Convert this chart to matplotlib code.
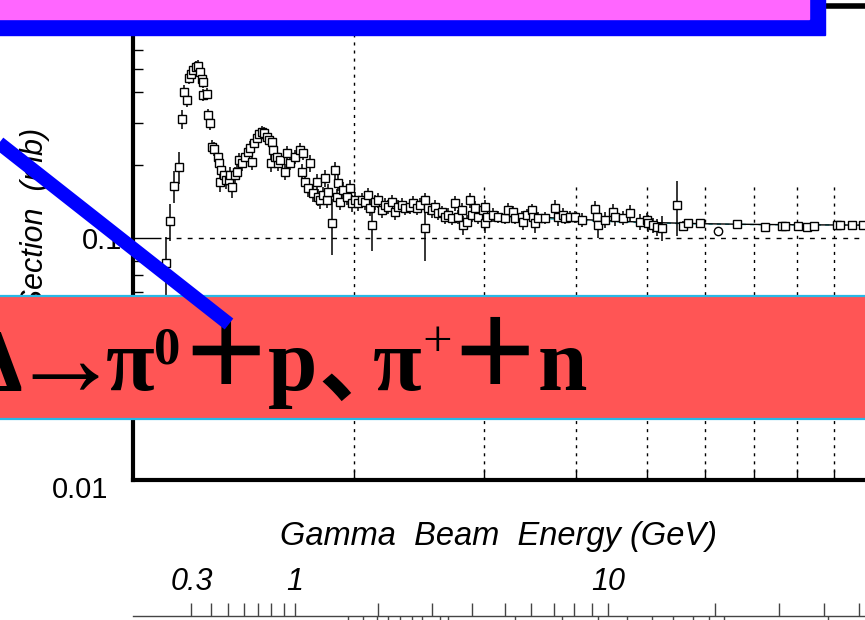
"""
Gamma-p total cross section slide: log-log data plot with slide overlays.
"""
import numpy as np
import matplotlib.pyplot as plt
import matplotlib.transforms as mtransforms
from matplotlib.patches import Rectangle
from matplotlib.lines import Line2D
from matplotlib.ticker import FixedLocator, LogLocator, NullFormatter

plt.rcParams['font.family'] = ['Liberation Sans', 'DejaVu Sans']

# total cross section (mb) against W = sqrt(s) (GeV)
w_data = [
    1.109, 1.123, 1.137, 1.155, 1.166, 1.173, 1.184, 1.192, 1.199, 1.207,
    1.218, 1.226, 1.234, 1.241, 1.245, 1.245, 1.261, 1.265, 1.273, 1.281,
    1.289, 1.305, 1.309, 1.318, 1.313, 1.330, 1.339, 1.351, 1.364, 1.355,
    1.377, 1.385, 1.394, 1.407, 1.420, 1.434, 1.443, 1.452, 1.461, 1.475,
    1.484, 1.498, 1.508, 1.522, 1.531, 1.541, 1.546, 1.560, 1.575,
    1.551, 1.570, 1.585, 1.610, 1.620, 1.635, 1.661, 1.687, 1.698, 1.703,
    1.714, 1.730, 1.741, 1.757, 1.780, 1.785, 1.797, 1.814, 1.825, 1.836,
    1.842, 1.865, 1.883, 1.895, 1.901, 1.913, 1.931, 1.955, 1.973, 1.986,
    2.004, 2.023, 2.049, 2.068, 2.088, 2.101, 2.114, 2.134, 2.154, 2.181,
    2.202, 2.223, 2.251, 2.273, 2.294, 2.323, 2.345, 2.382, 2.404, 2.435,
    2.458, 2.497, 2.497, 2.520, 2.552, 2.576, 2.600, 2.633, 2.658, 2.683,
    2.716, 2.742, 2.768, 2.802, 2.812, 2.847, 2.874, 2.892, 2.919, 2.947,
    2.994, 3.013, 3.032,
    3.013, 3.090, 3.139, 3.208, 3.238, 3.289, 3.309, 3.382, 3.392, 3.435,
    3.490, 3.500, 3.522, 3.556, 3.634, 3.750, 3.786, 3.846, 3.870, 3.931,
    3.993, 4.082, 4.252, 4.279, 4.292, 4.387, 4.498, 4.526, 4.641, 4.744,
    4.895, 5.004, 5.020, 5.099, 5.163, 5.245, 5.497,
    5.602, 5.690, 5.907, 6.634, 7.243, 7.638, 7.711, 8.031, 8.260, 8.442,
    9.074, 9.160, 9.510, 9.845,
]
sigma_data = [
    0.0788, 0.1176, 0.1640, 0.1965, 0.3102, 0.4012, 0.3718, 0.4584, 0.4761, 0.4946,
    0.5089, 0.5137, 0.4853, 0.4540, 0.4412, 0.3898, 0.3936, 0.3222, 0.2987, 0.2377,
    0.2332, 0.2161, 0.2042, 0.1910, 0.1703, 0.1821, 0.1736, 0.1736, 0.1624, 0.1821,
    0.1821, 0.1874, 0.2101, 0.2042, 0.2161, 0.2267, 0.2355, 0.2061, 0.2470, 0.2590,
    0.2690, 0.2742, 0.2716, 0.2615, 0.2541, 0.2042, 0.2493, 0.2161, 0.2042,
    0.2310, 0.2161, 0.2101, 0.1874, 0.2245, 0.2042, 0.2161, 0.2310, 0.1874, 0.2245,
    0.1703, 0.1609, 0.2042, 0.1535, 0.1703, 0.1477, 0.1436, 0.1505, 0.1770, 0.1436,
    0.1549, 0.1153, 0.1910, 0.1477, 0.1687, 0.1409, 0.1579, 0.1477, 0.1609, 0.1395,
    0.1436, 0.1395, 0.1436, 0.1409, 0.1505, 0.1330, 0.1132, 0.1409, 0.1436, 0.1305,
    0.1369, 0.1343, 0.1409, 0.1281, 0.1343, 0.1369, 0.1330, 0.1343, 0.1395, 0.1330,
    0.1369, 0.1436, 0.1100, 0.1330, 0.1305, 0.1343, 0.1269, 0.1281, 0.1221, 0.1245,
    0.1210, 0.1395, 0.1221, 0.1305, 0.1132, 0.1164, 0.1436, 0.1245, 0.1330, 0.1221,
    0.1305, 0.1153, 0.1221,
    0.1343, 0.1245, 0.1221, 0.1210, 0.1305, 0.1281, 0.1210, 0.1221, 0.1164, 0.1245,
    0.1305, 0.1221, 0.1153, 0.1210, 0.1210, 0.1330, 0.1221, 0.1245, 0.1210, 0.1221,
    0.1221, 0.1187, 0.1318, 0.1221, 0.1132, 0.1187, 0.1281, 0.1221, 0.1210, 0.1269,
    0.1164, 0.1187, 0.1153, 0.1132, 0.1110, 0.1100, 0.1369,
    0.1121, 0.1153, 0.1153, 0.1142, 0.1110, 0.1121, 0.1121, 0.1121, 0.1110, 0.1121,
    0.1132, 0.1132, 0.1132, 0.1132,
]
sigma_err = [
    0.022, 0.020, 0.025, 0.030, 0.028, 0.026, 0.024, 0.024, 0.026, 0.026,
    0.030, 0.030, 0.026, 0.026, 0.025, 0.022, 0.022, 0.020, 0.020, 0.016,
    0.016, 0.015, 0.015, 0.016, 0.016, 0.014, 0.014, 0.016, 0.016, 0.014,
    0.014, 0.014, 0.015, 0.015, 0.015, 0.016, 0.016, 0.015, 0.016, 0.016,
    0.017, 0.017, 0.017, 0.016, 0.016, 0.016, 0.015, 0.015, 0.015,
    0.015, 0.015, 0.015, 0.014, 0.015, 0.014, 0.014, 0.015, 0.014, 0.015,
    0.013, 0.013, 0.016, 0.012, 0.013, 0.012, 0.012, 0.012, 0.014, 0.011,
    0.012, 0.030, 0.016, 0.012, 0.013, 0.011, 0.012, 0.011, 0.012, 0.011,
    0.011, 0.010, 0.010, 0.010, 0.011, 0.010, 0.025, 0.010, 0.010, 0.009,
    0.009, 0.009, 0.010, 0.009, 0.009, 0.009, 0.009, 0.009, 0.009, 0.009,
    0.009, 0.010, 0.030, 0.009, 0.009, 0.009, 0.008, 0.008, 0.008, 0.008,
    0.008, 0.010, 0.008, 0.009, 0.010, 0.008, 0.010, 0.008, 0.009, 0.008,
    0.008, 0.010, 0.008,
    0.009, 0.008, 0.007, 0.007, 0.009, 0.007, 0.007, 0.007, 0.008, 0.007,
    0.008, 0.008, 0.010, 0.007, 0.007, 0.010, 0.010, 0.008, 0.007, 0.007,
    0.007, 0.008, 0.011, 0.012, 0.013, 0.009, 0.010, 0.010, 0.008, 0.010,
    0.009, 0.008, 0.009, 0.008, 0.009, 0.013, 0.035,
    0.005, 0.004, 0.004, 0.003, 0.003, 0.002, 0.002, 0.002, 0.002, 0.002,
    0.002, 0.002, 0.002, 0.002,
]

w_circle = [6.250]
sigma_circle = [0.1069]
err_circle = [0.004]

# smooth high-energy fits
w_fit = [3.0, 3.5, 4.0, 5.0, 6.0, 7.0, 8.0, 10.0]
sigma_fit = [0.1265, 0.1225, 0.1195, 0.1160, 0.1145, 0.1138, 0.1134, 0.1130]
sigma_fit2 = [0.1240, 0.1210, 0.1185, 0.1155, 0.1142, 0.1136, 0.1133, 0.1130]

# beam energy scale drawn under the plot (GeV)
beam_ticks = [0.3, 0.4, 0.5, 0.6, 0.7, 0.8, 0.9, 1, 2, 3, 4, 5, 6, 7, 8, 9, 10,
              20, 30, 40, 50]
beam_labelled = [0.3, 1, 10]
beam_labels = ['0.3', '1', '10']
# ticks of the cropped scale below it, as W (GeV)
lower_ticks_w = [1.961, 2.055, 2.148, 2.223, 2.308, 2.397, 2.473, 2.617, 2.683,
                 3.309, 3.835, 4.292, 4.700, 5.083, 5.429, 5.779, 6.075, 6.368,
                 8.822]
M_P = 0.938

W_PX, H_PX = 865, 620


def fx(x):
    return x / W_PX


def fy(y):
    return 1 - y / H_PX


def beam_to_w(e):
    return np.sqrt(M_P ** 2 + 2 * M_P * np.asarray(e, dtype=float))


fig = plt.figure(figsize=(8.65, 6.2), dpi=100)

# main plot
ax = fig.add_axes([fx(133), fy(480), 735 / W_PX, 474 / H_PX])
ax.set_xscale('log')
ax.set_yscale('log')
ax.set_xlim(1, 10)
ax.set_ylim(0.01, 0.909)

ax.yaxis.set_major_locator(FixedLocator([0.01, 0.1]))
ax.yaxis.set_minor_locator(LogLocator(subs=np.arange(2, 10)))
ax.yaxis.set_minor_formatter(NullFormatter())
ax.set_yticklabels(['0.01', '0.1'])
ax.xaxis.set_major_formatter(NullFormatter())
ax.xaxis.set_minor_formatter(NullFormatter())
ax.tick_params(axis='y', which='major', direction='in', length=20, width=1,
               labelsize=21, pad=8)
ax.tick_params(axis='y', which='minor', direction='in', length=7, width=1)
ax.tick_params(axis='x', which='both', direction='in', length=7, width=1)
lab = ax.get_yticklabels()[0]
lab.set_transform(lab.get_transform() + mtransforms.ScaledTranslation(
    -0.14, -0.07, fig.dpi_scale_trans))

for side in ['left', 'bottom', 'right']:
    ax.spines[side].set_linewidth(3)
ax.spines['top'].set_linewidth(4)

# dotted grid
ax.axvline(2, color='black', lw=1, ls=(0, (2.2, 3.6)), zorder=1)
for w in [3, 4, 5, 6, 7, 8, 9]:
    ax.axvline(w, ymax=0.622, color='black', lw=1, ls=(0, (2.2, 3.6)), zorder=1)
ax.axhline(0.1, xmin=0.043, color='black', lw=1, ls=(0, (3.5, 4.5)), zorder=1)

ax.plot(w_fit, sigma_fit2, color='#1fb5c0', lw=1, ls=(0, (3, 3)), zorder=2)
ax.plot(w_fit, sigma_fit, color='black', lw=1, zorder=2)

ax.errorbar(w_data, sigma_data, yerr=sigma_err, fmt='s', ms=6, mfc='white',
            mec='black', mew=1.0, ecolor='black', elinewidth=1.1, capsize=0,
            zorder=3)
ax.errorbar(w_circle, sigma_circle, yerr=err_circle, fmt='o', ms=6, mfc='white',
            mec='black', mew=1.0, ecolor='black', elinewidth=1.1, capsize=0,
            zorder=3)

# beam energy scale
ax2 = fig.add_axes([fx(133), fy(616), 735 / W_PX, 0.0001])
ax2.set_xscale('log')
ax2.set_xlim(1, 10)
ax2.set_yticks([])
for side in ['left', 'right', 'bottom']:
    ax2.spines[side].set_visible(False)
ax2.spines['top'].set_color('#444444')
ax2.spines['top'].set_linewidth(1)
ax2.xaxis.set_major_locator(FixedLocator(beam_to_w(beam_labelled)))
ax2.xaxis.set_minor_locator(FixedLocator(beam_to_w(beam_ticks)))
ax2.set_xticklabels(beam_labels)
ax2.xaxis.set_minor_formatter(NullFormatter())
ax2.tick_params(axis='x', which='both', top=True, bottom=False, labeltop=True,
                labelbottom=False, direction='out', length=9.5, width=1,
                color='#444444')
ax2.tick_params(axis='x', which='major', labelsize=22, pad=4)
for t in ax2.get_xticklabels():
    t.set_fontstyle('italic')

ax3 = fig.add_axes([fx(133), fy(616), 735 / W_PX, 0.0001])
ax3.set_xscale('log')
ax3.set_xlim(1, 10)
ax3.set_yticks([])
ax3.patch.set_visible(False)
for side in ['left', 'right', 'top', 'bottom']:
    ax3.spines[side].set_visible(False)
ax3.xaxis.set_major_locator(FixedLocator(lower_ticks_w))
ax3.xaxis.set_minor_locator(FixedLocator([]))
ax3.xaxis.set_major_formatter(NullFormatter())
ax3.tick_params(axis='x', which='major', direction='out', length=8, width=1,
                color='#444444')

# axis titles
fig.text(fx(499), fy(537), 'Gamma  Beam  Energy (GeV)', fontsize=23.5,
         style='italic', ha='center', va='center')
fig.text(fx(35), fy(128), 'Cross  Section  (mb)', fontsize=22, style='italic',
         rotation=90, ha='center', va='top')

# slide decorations
fig.add_artist(Rectangle((fx(-20), fy(35)), fx(845), 0.2, color='#0000ff',
                         transform=fig.transFigure, zorder=10))
fig.add_artist(Rectangle((fx(-20), fy(19)), fx(829), 0.2, color='#ff66ff',
                         transform=fig.transFigure, zorder=11))
fig.add_artist(Rectangle((fx(-20), fy(419)), fx(905), 123 / H_PX,
                         facecolor='#ff5555', edgecolor='#29b8e6', lw=1.6,
                         transform=fig.transFigure, zorder=10))

serif = ['Liberation Serif', 'DejaVu Serif']
cjk = ['Noto Sans CJK SC', 'DejaVu Sans']
base = fy(390)
kw = dict(transform=fig.transFigure, zorder=12, color='black')
fig.text(fx(22), base, 'Δ', family=serif, weight='bold', fontsize=64,
         ha='right', va='baseline', **kw)
fig.text(fx(65), fy(368), '→', family=serif, weight='bold', fontsize=80,
         ha='center', va='center', **kw)
fig.text(fx(106), base, 'π', family=serif, weight='bold', fontsize=64,
         ha='left', va='baseline', **kw)
fig.text(fx(154), fy(363), '0', family=serif, weight='bold', fontsize=38,
         ha='left', va='baseline', **kw)
fig.text(fx(226), fy(358), '＋', family=cjk, weight='bold', fontsize=68,
         ha='center', va='center', **kw)
fig.text(fx(268), base, 'p', family=serif, weight='bold', fontsize=64,
         ha='left', va='baseline', **kw)
fig.text(fx(318), fy(395), '、', family=cjk, weight='bold', fontsize=64,
         ha='left', va='baseline', **kw)
fig.text(fx(373), base, 'π', family=serif, weight='bold', fontsize=64,
         ha='left', va='baseline', **kw)
fig.text(fx(437), fy(343), '+', family=serif, fontsize=38,
         ha='center', va='center', **kw)
fig.text(fx(495), fy(358), '＋', family=cjk, weight='bold', fontsize=68,
         ha='center', va='center', **kw)
fig.text(fx(538), base, 'n', family=serif, weight='bold', fontsize=64,
         ha='left', va='baseline', **kw)

fig.add_artist(Line2D([fx(-10), fx(229)], [fy(136), fy(324)], color='#0000ff',
                      lw=10, solid_capstyle='butt', transform=fig.transFigure,
                      zorder=13))

fig.savefig('out.png', dpi=100)
